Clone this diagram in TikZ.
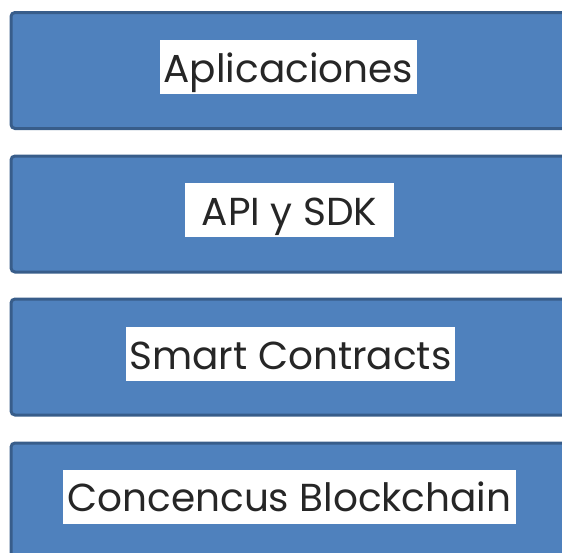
\documentclass[tikz,border=0pt]{standalone}
\usepackage{fontspec}
\setmainfont{Poppins}
\definecolor{layerfill}{HTML}{4F81BD}
\definecolor{layerline}{HTML}{385D8A}
\definecolor{labeltext}{HTML}{262626}
\begin{document}
\begin{tikzpicture}[x=1pt,y=-1pt,
  layer/.style={rectangle, rounded corners=4pt, fill=layerfill, draw=layerline,
    line width=3pt, minimum width=556pt, minimum height=116pt, inner sep=0pt},
  tag/.style={rectangle, fill=white, inner xsep=4pt, inner ysep=0pt,
    text height=42pt, text depth=12pt, text=labeltext,
    font=\fontsize{39pt}{42pt}\selectfont}]
  \useasboundingbox (0,0) rectangle (562,552);
  \clip (0,0) rectangle (562,552);
  % the four stacked layers
  \node[layer] (apps)  at (289,70.5) {};
  \node[layer] (api)   at (289,214)  {};
  \node[layer] (smart) at (289,357)  {};
  \node[layer] (cons)  at (289,501)  {};
  % their captions
  \node[tag] (tapps)  at (288.5,67)  {Aplicaciones};
  \node[tag, minimum width=209pt] (tapi) at (289.5,210) {API y SDK};
  \node[tag] (tsmart) at (290.5,354) {Smart Contracts};
  \node[tag] (tcons)  at (289.5,496.5) {Concencus Blockchain};
\end{tikzpicture}
\end{document}
